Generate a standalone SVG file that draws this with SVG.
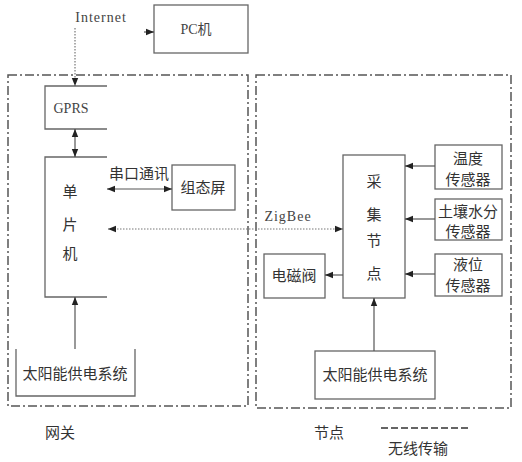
<svg xmlns="http://www.w3.org/2000/svg" width="522" height="462" viewBox="0 0 522 462">
<defs>
<marker id="ah" viewBox="0 0 10 10" refX="10" refY="5" markerWidth="8" markerHeight="8" orient="auto-start-reverse" markerUnits="userSpaceOnUse">
<path d="M0,1 L10,5 L0,9 z" fill="#222"/>
</marker>
<style>
.bx{fill:none;stroke:#666;stroke-width:1.3}
.grp{fill:none;stroke:#555;stroke-width:1.5;stroke-dasharray:9 3 2 3}
.ln{fill:none;stroke:#555;stroke-width:1.2}
.dot{fill:none;stroke:#777;stroke-width:1.2;stroke-dasharray:1.5 1.5}
.t{font-family:"Liberation Serif","Noto Sans CJK SC",serif;font-size:15px;fill:#333;text-anchor:middle}
.e{font-family:"Liberation Serif","Noto Sans CJK SC",serif;font-size:14px;fill:#444;text-anchor:middle}
</style>
</defs>
<rect width="522" height="462" fill="#fff"/>
<g id="gateway"><rect class="grp" x="8" y="75" width="240" height="331"/></g>
<g id="nodearea"><rect class="grp" x="256" y="75" width="255" height="333"/></g>
<g id="pc"><rect class="bx" x="154" y="5" width="94" height="48"/><text class="e" x="196" y="34">PC机</text></g>
<g id="gprs"><path class="bx" d="M107,86 H45 V129 H107"/><text class="e" x="71" y="113" font-size="13">GPRS</text></g>
<g id="mcu"><path class="bx" d="M107,157 H45 V297 H107"/><text class="t" x="70" y="197">单</text><text class="t" x="70" y="230">片</text><text class="t" x="70" y="259">机</text></g>
<g id="screen"><rect class="bx" x="172" y="165" width="63" height="45"/><text class="t" x="203" y="193">组态屏</text></g>
<g id="gsolar"><path class="bx" d="M16,349 V396 H135 V349"/><text class="t" x="75" y="379">太阳能供电系统</text></g>
<g id="collector"><rect class="bx" x="343" y="155" width="62" height="143"/><text class="t" x="374" y="187">采</text><text class="t" x="374" y="220">集</text><text class="t" x="374" y="246">节</text><text class="t" x="374" y="279">点</text></g>
<g id="temp"><rect class="bx" x="435" y="145" width="67" height="44"/><text class="t" x="468" y="164">温度</text><text class="t" x="468" y="185">传感器</text></g>
<g id="soil"><rect class="bx" x="435" y="199" width="67" height="41"/><text class="t" x="468" y="217">土壤水分</text><text class="t" x="468" y="237">传感器</text></g>
<g id="level"><rect class="bx" x="435" y="254" width="67" height="42"/><text class="t" x="468" y="270">液位</text><text class="t" x="468" y="291">传感器</text></g>
<g id="valve"><rect class="bx" x="264" y="254" width="61" height="44"/><text class="t" x="294" y="281">电磁阀</text></g>
<g id="nsolar"><rect class="bx" x="315" y="351" width="120" height="48"/><text class="t" x="375" y="380">太阳能供电系统</text></g>
<g id="connectors">
<path class="dot" d="M75,28 V86" marker-end="url(#ah)"/>
<path class="ln" d="M144,32 H154" marker-end="url(#ah)"/>
<path class="ln" d="M75,129 V157" marker-start="url(#ah)" marker-end="url(#ah)"/>
<path class="ln" d="M107,189 H172" marker-start="url(#ah)" marker-end="url(#ah)"/>
<path class="dot" d="M108,229 H343" marker-start="url(#ah)" marker-end="url(#ah)"/>
<path class="ln" d="M75,349 V297" marker-end="url(#ah)"/>
<path class="ln" d="M435,166 H405" marker-end="url(#ah)"/>
<path class="ln" d="M435,219 H405" marker-end="url(#ah)"/>
<path class="ln" d="M435,274 H405" marker-end="url(#ah)"/>
<path class="ln" d="M343,275 H325" marker-end="url(#ah)"/>
<path class="ln" d="M374,351 V298" marker-end="url(#ah)"/>
</g>
<g id="labels">
<text class="e" x="101" y="22" font-size="15" letter-spacing="1">Internet</text>
<text class="t" x="139" y="179">串口通讯</text>
<text class="e" x="288" y="221" letter-spacing="1">ZigBee</text>
<text class="t" x="60" y="438">网关</text>
<text class="t" x="329" y="438">节点</text>
<path d="M381,428 H468" fill="none" stroke="#333" stroke-width="1.5" stroke-dasharray="7 3"/>
<text class="t" x="418" y="454">无线传输</text>
</g>
</svg>
